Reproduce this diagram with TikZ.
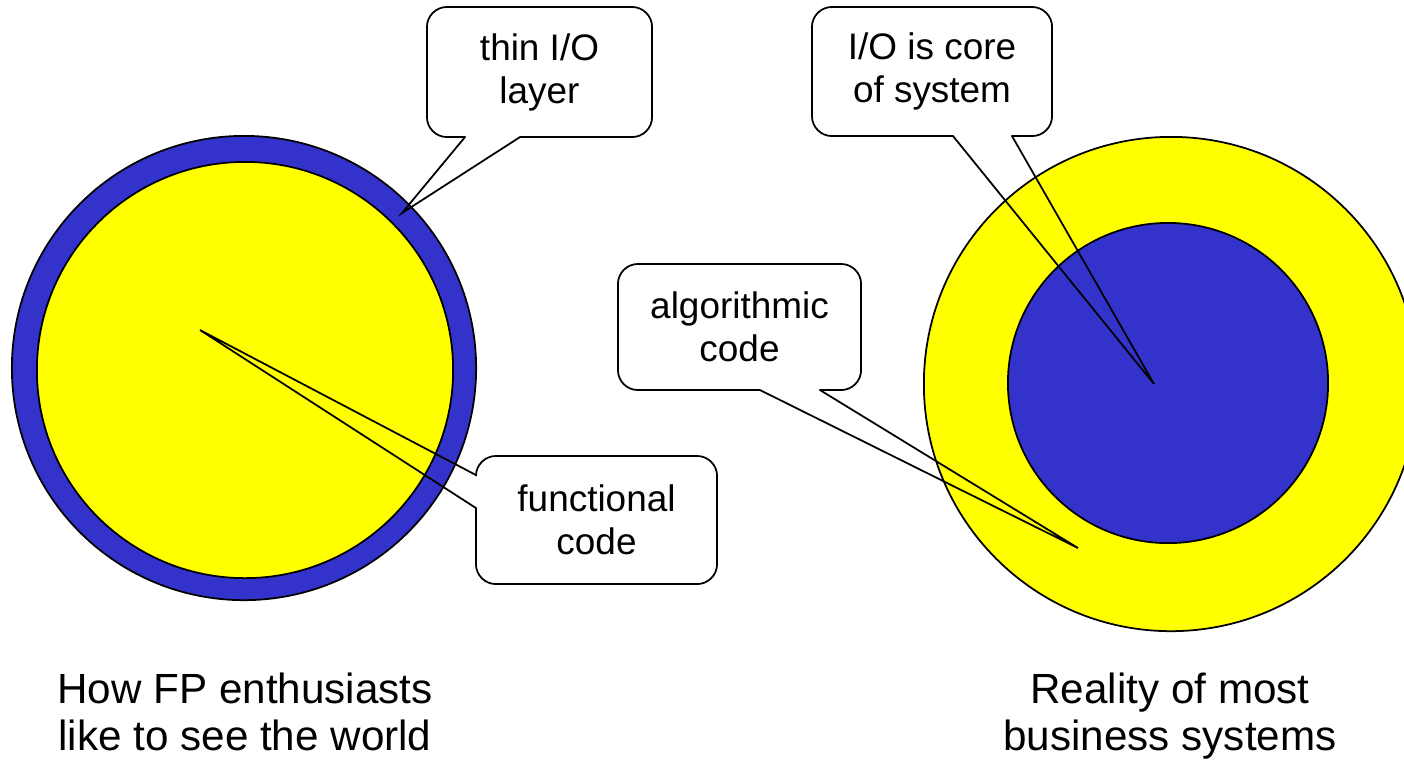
\documentclass[tikz,border=0pt]{standalone}
\usepackage{fontspec}
\setmainfont{Liberation Sans}
\definecolor{ioblue}{RGB}{51,51,204}
\definecolor{codeyellow}{RGB}{255,255,0}
\tikzset{
  ring/.style={circle, draw=black, line width=0.5pt, inner sep=0pt, outer sep=0pt},
  bubble/.style={inner sep=0pt, outer sep=0pt, align=center,
    font=\fontsize{10.5}{12.2}\selectfont},
  bubbleline/.style={draw=black, line width=0.5pt, line cap=round, line join=miter},
  caption/.style={align=center, font=\fontsize{12}{13.4}\selectfont},
}
\begin{document}
\begin{tikzpicture}[x=0.01cm, y=-0.01cm]
\useasboundingbox (0,0) rectangle (1404,759);

% the two worlds
\begin{scope}
  \clip (0,0) rectangle (1404,759);
  \node[ring, fill=ioblue, minimum size=4.64cm] (ioL) at (244,368) {};
  \node[ring, fill=codeyellow, minimum size=4.16cm] (fpL) at (245,370) {};
  \node[ring, fill=codeyellow, minimum size=4.94cm] (algR) at (1171,384) {};
  \node[ring, fill=ioblue, minimum size=3.2cm] (ioR) at (1168,383) {};
\end{scope}

% where the speech bubbles point
\coordinate (tipThin) at (402,213);
\coordinate (tipCore) at (1154,384);
\coordinate (tipAlg) at (1078,548);
\coordinate (tipFun) at (200,330);

% bubble texts
\node[bubble, minimum width=2.25cm, minimum height=1.30cm] (thin) at (539.5,72) {thin I/O\\layer};
\node[bubble, minimum width=2.40cm, minimum height=1.29cm] (core) at (932,71.5) {I/O is core\\of system};
\node[bubble, minimum width=2.43cm, minimum height=1.26cm] (alg) at (739.5,327) {algorithmic\\code};
\node[bubble, minimum width=2.41cm, minimum height=1.28cm] (fun) at (596.5,520) {functional\\code};

% bubble outlines, open where the pointer leaves
\draw[bubbleline, rounded corners=0.2cm] (520,0 |- thin.south) -- (thin.south east) -- (thin.north east)
  -- (thin.north west) -- (thin.south west) -- (465,0 |- thin.south);
\draw[bubbleline] (465,0 |- thin.south) -- (tipThin) -- (520,0 |- thin.south);

\draw[bubbleline, rounded corners=0.2cm] (1012,0 |- core.south) -- (core.south east) -- (core.north east)
  -- (core.north west) -- (core.south west) -- (953,0 |- core.south);
\draw[bubbleline] (953,0 |- core.south) -- (tipCore) -- (1012,0 |- core.south);

\draw[bubbleline, rounded corners=0.2cm] (820,0 |- alg.south) -- (alg.south east) -- (alg.north east)
  -- (alg.north west) -- (alg.south west) -- (760,0 |- alg.south);
\draw[bubbleline] (760,0 |- alg.south) -- (tipAlg) -- (820,0 |- alg.south);

\draw[bubbleline, rounded corners=0.2cm] (fun.west |- 0,475) -- (fun.north west) -- (fun.north east)
  -- (fun.south east) -- (fun.south west) -- (fun.west |- 0,508);
\draw[bubbleline] (fun.west |- 0,475) -- (tipFun) -- (fun.west |- 0,508);

% captions
\node[caption] (capL) at (245,712) {How FP enthusiasts\\like to see the world};
\node[caption] (capR) at (1170,716) {Reality of most\\business systems};
\end{tikzpicture}
\end{document}
